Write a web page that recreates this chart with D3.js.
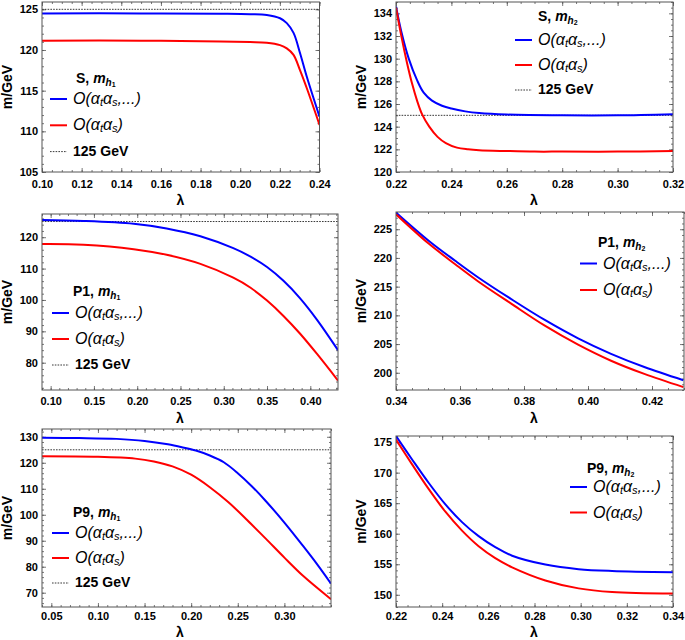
<!DOCTYPE html>
<html><head><meta charset="utf-8">
<script src="https://cdn.jsdelivr.net/npm/d3@7"></script>
<style>body{margin:0;background:#fff}svg{display:block}</style>
</head><body>
<svg id="c" width="685" height="640"></svg>
<script>
// ---------- DATA ----------
// Panel S, m_h1
const sMh1Lambda = [0.10, 0.15, 0.19, 0.205, 0.2134, 0.2201, 0.2235, 0.2269, 0.2302, 0.2336, 0.24];
const sMh1Full   = [124.5, 124.5, 124.45, 124.4, 124.3, 123.9, 123.3, 122.1, 119.6, 116.7, 111.8];
const sMh1Alpha  = [121.15, 121.15, 121.05, 120.98, 120.9, 120.6, 120.2, 119.4, 117.5, 115.3, 110.8];
// Panel S, m_h2
const sMh2FullLambda  = [0.22, 0.222, 0.2246, 0.2276, 0.230, 0.233, 0.2366, 0.24, 0.245, 0.25, 0.26, 0.28, 0.30, 0.32];
const sMh2Full        = [134.6, 132.3, 130.0, 128.1, 127.0, 126.3, 125.85, 125.6, 125.35, 125.2, 125.07, 125.0, 125.0, 125.1];
const sMh2AlphaLambda = [0.22, 0.222, 0.224, 0.2258, 0.2276, 0.2294, 0.232, 0.235, 0.238, 0.242, 0.246, 0.25, 0.26, 0.27, 0.28, 0.30, 0.32];
const sMh2Alpha       = [134.5, 131.9, 129.6, 127.8, 126.3, 125.1, 124.0, 123.1, 122.55, 122.15, 122.0, 121.92, 121.85, 121.8, 121.8, 121.8, 121.85];
// Panel P1, m_h1
const p1Mh1Lambda = [0.09, 0.138, 0.196, 0.234, 0.273, 0.311, 0.331, 0.350, 0.369, 0.388, 0.408, 0.432];
const p1Mh1Full   = [125.5, 125.2, 124.3, 122.8, 120.3, 116.5, 113.8, 110.5, 106.1, 100.6, 93.6, 84.0];
const p1Mh1Alpha  = [117.8, 117.6, 116.2, 114.4, 111.5, 107.1, 103.9, 99.8, 94.9, 89.3, 82.7, 74.3];
// Panel P1, m_h2
const p1Mh2Lambda = [0.34, 0.3502, 0.3585, 0.3657, 0.3761, 0.3865, 0.3969, 0.4072, 0.4176, 0.4298];
const p1Mh2Full   = [227.9, 223.0, 219.5, 216.6, 212.8, 209.2, 206.0, 203.3, 201.0, 198.7];
const p1Mh2Alpha  = [227.6, 222.5, 218.9, 215.9, 212.0, 208.2, 204.9, 202.1, 199.8, 197.5];
// Panel P9, m_h1
const p9Mh1FullLambda  = [0.04, 0.08, 0.12, 0.15, 0.175, 0.19, 0.205, 0.22, 0.235, 0.25, 0.265, 0.28, 0.30, 0.32, 0.335, 0.35];
const p9Mh1Full        = [129.6, 129.5, 129.2, 128.4, 127.1, 126.0, 124.7, 122.8, 120.2, 116.0, 111.0, 105.3, 97.0, 88.0, 81.0, 73.5];
const p9Mh1AlphaLambda = [0.04, 0.10, 0.14, 0.16, 0.18, 0.20, 0.22, 0.24, 0.26, 0.28, 0.30, 0.32, 0.35];
const p9Mh1Alpha       = [122.5, 122.3, 121.6, 120.5, 118.6, 115.4, 110.6, 104.8, 98.0, 90.8, 83.5, 76.5, 67.5];
// Panel P9, m_h2
const p9Mh2Lambda = [0.22, 0.2269, 0.2342, 0.2414, 0.2486, 0.2558, 0.263, 0.2703, 0.2847, 0.2991, 0.3136, 0.34];
const p9Mh2Full   = [176.0, 172.2, 168.3, 164.8, 161.9, 159.6, 157.8, 156.4, 154.95, 154.2, 153.9, 153.7];
const p9Mh2Alpha  = [175.4, 171.4, 167.3, 163.6, 160.5, 157.95, 156.0, 154.5, 152.35, 151.05, 150.45, 150.2];

// Tick labels
const sMh1XTicks = [0.10, 0.12, 0.14, 0.16, 0.18, 0.20, 0.22, 0.24];
const sMh1YTicks = [105, 110, 115, 120, 125];
const sMh2XTicks = [0.22, 0.24, 0.26, 0.28, 0.30, 0.32];
const sMh2YTicks = [120, 122, 124, 126, 128, 130, 132, 134];
const p1Mh1XTicks = [0.10, 0.15, 0.20, 0.25, 0.30, 0.35, 0.40];
const p1Mh1YTicks = [80, 90, 100, 110, 120];
const p1Mh2XTicks = [0.34, 0.36, 0.38, 0.40, 0.42];
const p1Mh2YTicks = [200, 205, 210, 215, 220, 225];
const p9Mh1XTicks = [0.05, 0.10, 0.15, 0.20, 0.25, 0.30];
const p9Mh1YTicks = [70, 80, 90, 100, 110, 120, 130];
const p9Mh2XTicks = [0.22, 0.24, 0.26, 0.28, 0.30, 0.32, 0.34];
const p9Mh2YTicks = [150, 155, 160, 165, 170, 175];

const referenceMass = 125;
const panelNames = ["S", "S", "P1", "P1", "P9", "P9"];
const higgsIndex = ["1", "2", "1", "2", "1", "2"];

// ---------- LAYOUT ----------
const FONT = "'Liberation Sans', Arial, Helvetica, sans-serif";
const FRAME = "#555";
const BLUE = "#0000ff", RED = "#ff0000";

const panels = [
  {id:0, left:42, right:319.5, top:2, bottom:172, xDomain:[0.10,0.24], yDomain:[105,125.9], pad:8,
   xTicks:sMh1XTicks, yTicks:sMh1YTicks, blue:[sMh1Lambda,sMh1Full], red:[sMh1Lambda,sMh1Alpha],
   ref:true, lamX:180.5, lamY:200, leg:{tx:76, ty:78, lx:50, ly:99, step:26.3}},
  {id:1, left:396, right:673, top:2, bottom:172, xDomain:[0.22,0.32], yDomain:[120,135], pad:8,
   xTicks:sMh2XTicks, yTicks:sMh2YTicks, blue:[sMh2FullLambda,sMh2Full], red:[sMh2AlphaLambda,sMh2Alpha],
   ref:true, lamX:534, lamY:200, leg:{tx:538, ty:16, lx:515, ly:40, step:25}},
  {id:2, left:42, right:338, top:214, bottom:390, xDomain:[0.09,0.432], yDomain:[71.3,127.4], pad:7,
   xTicks:p1Mh1XTicks, yTicks:p1Mh1YTicks, blue:[p1Mh1Lambda,p1Mh1Full], red:[p1Mh1Lambda,p1Mh1Alpha],
   ref:true, lamX:180, lamY:418, leg:{tx:73, ty:291, lx:52, ly:313, step:26}},
  {id:3, left:396, right:684, top:212, bottom:390, xDomain:[0.34,0.43], yDomain:[197,228], pad:7,
   xTicks:p1Mh2XTicks, yTicks:p1Mh2YTicks, blue:[p1Mh2Lambda,p1Mh2Full], red:[p1Mh2Lambda,p1Mh2Alpha],
   ref:false, lamX:534, lamY:418, leg:{tx:598, ty:242, lx:580, ly:263.5, step:26.5}},
  {id:4, left:42, right:331, top:429, bottom:607, xDomain:[0.04,0.35], yDomain:[64.5,133], pad:5,
   xTicks:p9Mh1XTicks, yTicks:p9Mh1YTicks, blue:[p9Mh1FullLambda,p9Mh1Full], red:[p9Mh1AlphaLambda,p9Mh1Alpha],
   ref:true, lamX:180, lamY:632, leg:{tx:73, ty:512, lx:52, ly:533, step:25}},
  {id:5, left:396, right:673, top:436, bottom:607, xDomain:[0.22,0.34], yDomain:[148,176], pad:5,
   xTicks:p9Mh2XTicks, yTicks:p9Mh2YTicks, blue:[p9Mh2Lambda,p9Mh2Full], red:[p9Mh2Lambda,p9Mh2Alpha],
   ref:false, lamX:534, lamY:632, leg:{tx:587, ty:468, lx:570, ly:487, step:25.5}}
];

const svg = d3.select("#c");
const defs = svg.append("defs");

function minorTicks(major, domain) {
  const step = major[1] - major[0];
  const mag = Math.pow(10, Math.floor(Math.log10(step) + 1e-9));
  const lead = Math.round(step / mag);
  const n = lead === 2 ? 4 : 5;
  const ms = step / n;
  const out = [];
  for (let k = Math.ceil(domain[0] / ms - 1e-6); k * ms <= domain[1] + 1e-9; k++) out.push(+(k * ms).toFixed(6));
  return out;
}

function styleAxis(a, labels) {
  a.attr("font-family", null).attr("font-size", null);
  a.select(".domain").remove();
  a.selectAll("line").attr("stroke", FRAME).attr("stroke-width", 0.8);
  if (!labels) a.selectAll("text").remove();
  else a.selectAll("text").attr("fill", "#000").attr("font-family", FONT)
        .attr("font-size", 11).attr("font-weight", "bold");
}

function drawPanel(p, i) {
  const x = d3.scaleLinear().domain(p.xDomain).range([p.left, p.right]);
  const y = d3.scaleLinear().domain(p.yDomain).range([p.bottom, p.top]);
  const g = svg.append("g");
  const clipId = "clip" + p.id;
  defs.append("clipPath").attr("id", clipId).append("rect")
    .attr("x", p.left).attr("y", p.top).attr("width", p.right - p.left).attr("height", p.bottom - p.top);

  const xm = minorTicks(p.xTicks, p.xDomain), ym = minorTicks(p.yTicks, p.yDomain);
  const fmtX = d3.format(".2f");
  const B = `translate(0,${p.bottom})`, T = `translate(0,${p.top})`,
        L = `translate(${p.left},0)`, R = `translate(${p.right},0)`;
  styleAxis(g.append("g").attr("transform", B).call(d3.axisBottom(x).tickValues(xm).tickSize(-2).tickSizeOuter(0)), false);
  styleAxis(g.append("g").attr("transform", B).call(d3.axisBottom(x).tickValues(p.xTicks).tickSize(-4).tickSizeOuter(0).tickPadding(p.pad).tickFormat(fmtX)), true);
  styleAxis(g.append("g").attr("transform", T).call(d3.axisTop(x).tickValues(xm).tickSize(-2).tickSizeOuter(0)), false);
  styleAxis(g.append("g").attr("transform", T).call(d3.axisTop(x).tickValues(p.xTicks).tickSize(-4).tickSizeOuter(0)), false);
  styleAxis(g.append("g").attr("transform", L).call(d3.axisLeft(y).tickValues(ym).tickSize(-2).tickSizeOuter(0)), false);
  styleAxis(g.append("g").attr("transform", L).call(d3.axisLeft(y).tickValues(p.yTicks).tickSize(-4).tickSizeOuter(0).tickPadding(4).tickFormat(d3.format("d"))), true);
  styleAxis(g.append("g").attr("transform", R).call(d3.axisRight(y).tickValues(ym).tickSize(-2).tickSizeOuter(0)), false);
  styleAxis(g.append("g").attr("transform", R).call(d3.axisRight(y).tickValues(p.yTicks).tickSize(-4).tickSizeOuter(0)), false);

  const plot = g.append("g").attr("clip-path", `url(#${clipId})`);
  if (p.ref) {
    plot.append("line").attr("x1", p.left).attr("x2", p.right)
      .attr("y1", y(referenceMass)).attr("y2", y(referenceMass))
      .attr("stroke", "#222").attr("stroke-width", 0.9).attr("stroke-dasharray", "1.6,1.2");
  }
  const line = d3.line().x(d => x(d[0])).y(d => y(d[1])).curve(d3.curveCatmullRom.alpha(0.5));
  plot.append("path").datum(d3.zip(p.blue[0], p.blue[1])).attr("d", line)
    .attr("fill", "none").attr("stroke", BLUE).attr("stroke-width", 2);
  plot.append("path").datum(d3.zip(p.red[0], p.red[1])).attr("d", line)
    .attr("fill", "none").attr("stroke", RED).attr("stroke-width", 2);

  g.append("rect").attr("x", p.left).attr("y", p.top).attr("width", p.right - p.left)
    .attr("height", p.bottom - p.top).attr("fill", "none").attr("stroke", FRAME).attr("stroke-width", 1);

  // axis titles
  g.append("text").attr("transform", `translate(${p.left - 35},${(p.top + p.bottom) / 2}) rotate(-90)`)
    .attr("text-anchor", "middle").attr("dominant-baseline", "central")
    .attr("font-family", FONT).attr("font-size", 14).attr("font-weight", "bold").text("m/GeV");
  g.append("text").attr("x", p.lamX).attr("y", p.lamY).attr("text-anchor", "middle")
    .attr("dominant-baseline", "central").attr("font-family", FONT).attr("font-size", 14)
    .attr("font-weight", "bold").text("λ");

  // legend
  const lg = p.leg;
  const title = g.append("text").attr("x", lg.tx).attr("y", lg.ty).attr("dominant-baseline", "central")
    .attr("font-family", FONT).attr("font-size", 14).attr("font-weight", "bold");
  title.append("tspan").text(panelNames[i] + ", ");
  title.append("tspan").attr("font-style", "italic").text("m");
  title.append("tspan").attr("font-style", "italic").attr("font-size", 10).attr("dy", 4).text("h");
  title.append("tspan").attr("font-size", 7).attr("dy", 2).text(higgsIndex[i]);

  const items = [{c: BLUE, full: true}, {c: RED, full: false}];
  if (p.ref) items.push({dash: true});
  items.forEach((it, k) => {
    const yy = lg.ly + k * lg.step;
    const ln = g.append("line").attr("x1", lg.lx).attr("x2", lg.lx + 17).attr("y1", yy).attr("y2", yy);
    if (it.dash) ln.attr("stroke", "#222").attr("stroke-width", 0.9).attr("stroke-dasharray", "1.6,1.2");
    else ln.attr("stroke", it.c).attr("stroke-width", 2);
    const t = g.append("text").attr("x", lg.lx + 23).attr("y", yy - 1).attr("dominant-baseline", "central")
      .attr("font-family", FONT).attr("font-size", 16);
    if (it.dash) {
      t.attr("font-weight", "bold").attr("font-size", 14).text("125 GeV");
    } else {
      t.attr("font-style", "italic");
      t.append("tspan").text("O(α");
      t.append("tspan").attr("font-size", 11).attr("dy", 4).text("t");
      t.append("tspan").attr("dy", -4).text("α");
      t.append("tspan").attr("font-size", 11).attr("dy", 4).text("s");
      t.append("tspan").attr("dy", -4).text(it.full ? ",...)" : ")");
    }
  });
}

panels.forEach(drawPanel);
</script>
</body></html>
